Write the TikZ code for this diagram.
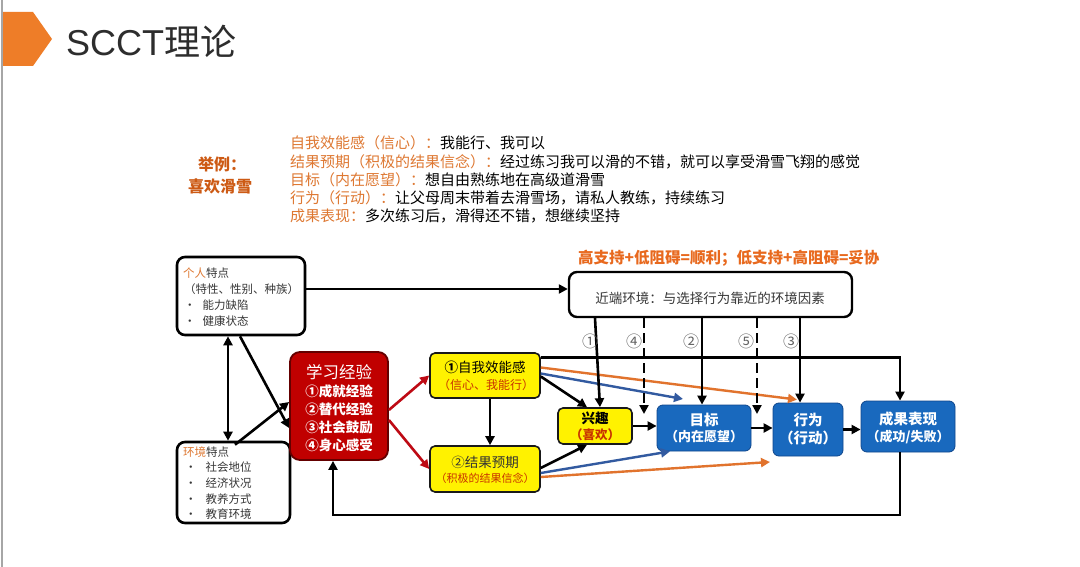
\documentclass[tikz,border=0pt]{standalone}
\usepackage{fontspec}
\setmainfont{Noto Sans CJK SC}
\newfontfamily\latinsans{Liberation Sans}
\usetikzlibrary{arrows.meta}
\newcommand{\myfs}[1]{\fontsize{#1}{#1}\selectfont}
\definecolor{darktext}{RGB}{45,45,45}
\definecolor{bodytext}{RGB}{55,55,55}
\definecolor{tagorange}{RGB}{238,125,40}
\definecolor{exorange}{RGB}{205,90,20}
\definecolor{lblorange}{RGB}{222,120,50}
\definecolor{toporange}{RGB}{232,105,30}
\definecolor{redF}{RGB}{192,0,0}
\definecolor{redD}{RGB}{100,0,0}
\definecolor{redA}{RGB}{190,10,20}
\definecolor{blueF}{RGB}{25,105,190}
\definecolor{blueD}{RGB}{15,70,140}
\definecolor{blueA}{RGB}{50,90,160}
\definecolor{orA}{RGB}{225,115,45}
\definecolor{ytext}{RGB}{200,50,0}
\definecolor{numgray}{RGB}{100,100,100}
\tikzset{
  wbox/.style={draw=black, line width=2.6pt, rounded corners=8pt, fill=white, inner sep=0pt},
  ybox/.style={draw=black!90, line width=1.6pt, rounded corners=5pt, fill=yellow, inner sep=0pt},
  bbox/.style={draw=blueD, line width=0.8pt, rounded corners=6pt, fill=blueF, inner sep=0pt},
  rbox/.style={draw=redD, line width=1.8pt, rounded corners=10pt, fill=redF, inner sep=0pt},
  txt/.style={inner sep=0pt, anchor=west, text=bodytext},
  ctxt/.style={inner sep=0pt},
  tip/.style={-{Triangle[length=9pt,width=9pt]}},
  arr/.style={line width=2.6pt, tip},
  dasharr/.style={line width=2.6pt, dash pattern=on 10pt off 5pt, tip},
  redarr/.style={line width=2.6pt, draw=redA, tip},
  bluearr/.style={line width=2.4pt, draw=blueA, tip},
  orarr/.style={line width=2.4pt, draw=orA, tip},
  num/.style={inner sep=0pt, text=numgray, font=\myfs{16}},
}
\begin{document}
\begin{tikzpicture}[x=1pt,y=-1pt]
\useasboundingbox (0,0) rectangle (1080,567);
\fill[white] (0,0) rectangle (1080,567);
\draw[black!35, line width=1.5pt] (2,0) -- (2,567);
% title
\fill[tagorange] (3,12) -- (33,12) -- (52,39) -- (33,66) -- (3,66) -- cycle;
\node[inner sep=0pt, anchor=west, text=darktext, font=\myfs{36}] (title) at (66,41) {{\latinsans SCCT}理论};

% example
\node[ctxt, text=exorange, font=\myfs{16}\bfseries] (ex1) at (222,164) {举例：};
\node[ctxt, text=exorange, font=\myfs{16}\bfseries] (ex2) at (220,186) {喜欢滑雪};
\node[txt, font=\myfs{15}, text=black] (l1) at (290,143) {{\color{lblorange}自我效能感（信心）：}我能行、我可以};
\node[txt, font=\myfs{15}, text=black] (l2) at (290,162) {{\color{lblorange}结果预期（积极的结果信念）：}经过练习我可以滑的不错，就可以享受滑雪飞翔的感觉};
\node[txt, font=\myfs{15}, text=black] (l3) at (290,180) {{\color{lblorange}目标（内在愿望）：}想自由熟练地在高级道滑雪};
\node[txt, font=\myfs{15}, text=black] (l4) at (290,198) {{\color{lblorange}行为（行动）：}让父母周末带着去滑雪场，请私人教练，持续练习};
\node[txt, font=\myfs{15}, text=black] (l5) at (290,216) {{\color{lblorange}成果表现：}多次练习后，滑得还不错，想继续坚持};

\node[txt, font=\myfs{15.5}\bfseries, text=toporange] (rule) at (578,258) {高支持+低阻碍=顺利；低支持+高阻碍=妥协};

% boxes
\node[wbox, minimum width=128pt, minimum height=78pt] (pers) at (241,296) {};
\node[txt, font=\myfs{11.5}] (p1) at (183,273) {{\color{lblorange}个人}特点};
\node[txt, font=\myfs{11.5}] (p2) at (184,289) {（特性、性别、种族）};
\node[txt, font=\myfs{11.5}] (p3) at (184,305) {•\hspace{7pt}能力缺陷};
\node[txt, font=\myfs{11.5}] (p4) at (184,321) {•\hspace{7pt}健康状态};

\node[wbox, minimum width=113pt, minimum height=81pt] (env) at (233.5,482.5) {};
\node[txt, font=\myfs{11.5}] (e1) at (183,452) {{\color{lblorange}环境}特点};
\node[txt, font=\myfs{11.5}] (e2) at (185,467) {•\hspace{9pt}社会地位};
\node[txt, font=\myfs{11.5}] (e3) at (185,483) {•\hspace{9pt}经济状况};
\node[txt, font=\myfs{11.5}] (e4) at (185,499) {•\hspace{9pt}教养方式};
\node[txt, font=\myfs{11.5}] (e5) at (185,514) {•\hspace{9pt}教育环境};

\node[rbox, minimum width=98pt, minimum height=108pt] (learn) at (339,406) {};
\node[ctxt, text=white, font=\myfs{16.5}] (t0) at (339,372) {学习经验};
\node[ctxt, text=white, font=\myfs{13.5}\bfseries] (t1) at (339,391) {①成就经验};
\node[ctxt, text=white, font=\myfs{13.5}\bfseries] (t2) at (339,409) {②替代经验};
\node[ctxt, text=white, font=\myfs{13.5}\bfseries] (t3) at (339,427) {③社会鼓励};
\node[ctxt, text=white, font=\myfs{13.5}\bfseries] (t4) at (339,445) {④身心感受};

\node[wbox, line width=2.4pt, minimum width=283pt, minimum height=45pt] (prox) at (710.5,294.5) {};
\node[ctxt, font=\myfs{13.5}, text=bodytext] (proxt) at (710,298) {近端环境：与选择行为靠近的环境因素};

\node[ybox, minimum width=110pt, minimum height=45pt] (se) at (485,375.5) {};
\node[ctxt, font=\myfs{13.5}, text=black] (se1) at (485,367) {{\bfseries ①}自我效能感};
\node[ctxt, font=\myfs{12}, text=ytext] (se2) at (486,385) {（信心、我能行）};

\node[ybox, minimum width=110pt, minimum height=46pt] (oe) at (485,469) {};
\node[ctxt, font=\myfs{13.5}, text=black!80] (oe1) at (485,462) {②结果预期};
\node[ctxt, font=\myfs{11}, text=ytext] (oe2) at (485,478) {（积极的结果信念）};

\node[ybox, minimum width=74pt, minimum height=36pt] (int) at (595,426) {};
\node[ctxt, font=\myfs{13.5}\bfseries, text=black] (int1) at (595,418) {兴趣};
\node[ctxt, font=\myfs{12.5}\bfseries, text=ytext] (int2) at (595,435) {（喜欢）};

\node[bbox, minimum width=94pt, minimum height=46pt] (goal) at (704,428) {};
\node[ctxt, font=\myfs{14.5}\bfseries, text=white] (g1) at (704,420) {目标};
\node[ctxt, font=\myfs{13}\bfseries, text=white] (g2) at (704,437) {（内在愿望）};

\node[bbox, minimum width=70pt, minimum height=53pt] (act) at (808,429.5) {};
\node[ctxt, font=\myfs{14.5}\bfseries, text=white] (a1) at (808,420) {行为};
\node[ctxt, font=\myfs{14.5}\bfseries, text=white] (a2) at (808,438) {（行动）};

\node[bbox, minimum width=94pt, minimum height=51pt] (res) at (908,426.5) {};
\node[ctxt, font=\myfs{14.5}\bfseries, text=white] (r1) at (908,419) {成果表现};
\node[ctxt, font=\myfs{13}\bfseries, text=white] (r2) at (908,437) {（成功/失败）};

% connectors
\draw[arr] ([yshift=7pt]pers.east) -- ([yshift=7pt]pers.east -| prox.west);
\draw[line width=2.6pt, {Triangle[length=9pt,width=9pt]}-{Triangle[length=9pt,width=9pt]}] ([xshift=-13pt]pers.south) -- ([xshift=-13pt]pers.south |- env.north);
\draw[arr] ([xshift=-1pt]pers.south) -- ([yshift=-22pt]learn.west);
\draw[arr] ([xshift=1.5pt,yshift=-4pt]env.north) -- ([yshift=4pt]learn.west);

\draw[redarr] ([yshift=-4pt]learn.east) -- (se.west);
\draw[redarr] ([yshift=-14pt]learn.east) -- (oe.west);

\draw[arr] ([xshift=5pt]se.south) -- ([xshift=5pt]oe.north);
\draw[arr] ([yshift=-1pt]se.east) -- ([xshift=-8pt]int.north);
\draw[arr] ([yshift=1pt]oe.east) -- ([xshift=-8pt]int.south);

\coordinate (b1) at (683,399);
\coordinate (o2) at (770,462);
\draw[bluearr] ([yshift=2pt]se.east) -- (b1);
\draw[orarr] ([yshift=8pt]se.east) -- ([xshift=-11pt,yshift=3pt]act.north);
\draw[bluearr] ([yshift=-4pt]oe.east) -- ([xshift=-34pt]goal.south);
\draw[orarr] ([yshift=-8pt]oe.east) -- (o2);

\draw[arr] (int.east) -- (int.east -| goal.west);
\draw[arr] (goal.east) -- (goal.east -| act.west);
\draw[arr] (act.east) -- (act.east -| res.west);

\draw[arr] ([yshift=18pt]se.east) -| ([xshift=-8pt]res.north);

\coordinate (fb) at (333,515);
\draw[arr] ([xshift=-8pt]res.south) |- (fb) -- (fb |- learn.south);

% proximal environment paths
\coordinate (d4) at (644,414);
\coordinate (d5) at (757,414);
\draw[arr] (prox.south -| int.north) -- ([xshift=5pt]int.north);
\draw[arr] ([xshift=-8.5pt]prox.south) -- ([xshift=-2pt]goal.north);
\draw[arr] ([xshift=89.5pt]prox.south) -- ([xshift=-8pt]act.north);
\draw[dasharr] (prox.south -| d4) -- (d4);
\draw[dasharr] (prox.south -| d5) -- (d5);
\node[num] (n1) at (590,341) {①};
\node[num] (n4) at (634,341) {④};
\node[num] (n2) at (691,341) {②};
\node[num] (n5) at (746,341) {⑤};
\node[num] (n3) at (791,341) {③};
\end{tikzpicture}
\end{document}
